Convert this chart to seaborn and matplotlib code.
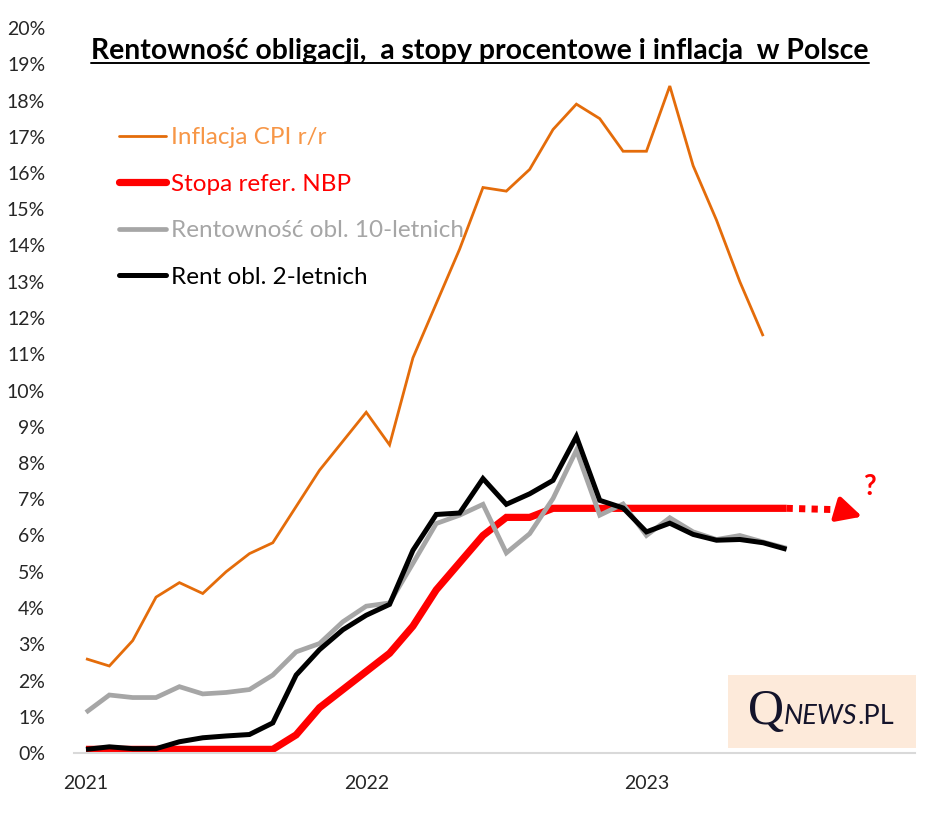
import numpy as np
import pandas as pd
import matplotlib
matplotlib.use("Agg")
import matplotlib.pyplot as plt
import seaborn as sns
from matplotlib.lines import Line2D
from matplotlib.patches import Rectangle
from matplotlib.offsetbox import TextArea, HPacker, AnnotationBbox

# ---------------- data (monthly, from Jan 2021) ----------------
year_labels = ["2021", "2022", "2023"]
y_ticks = list(range(0, 21))

cpi = [2.6, 2.4, 3.1, 4.3, 4.7, 4.4, 5.0, 5.5, 5.8, 6.8, 7.8, 8.6,
       9.4, 8.5, 10.9, 12.4, 13.9, 15.6, 15.5, 16.1, 17.2, 17.9, 17.5, 16.6,
       16.6, 18.4, 16.2, 14.7, 13.0, 11.5]
nbp_rate = [0.1, 0.1, 0.1, 0.1, 0.1, 0.1, 0.1, 0.1, 0.1, 0.5, 1.25, 1.75,
            2.25, 2.75, 3.5, 4.5, 5.25, 6.0, 6.5, 6.5, 6.75, 6.75, 6.75, 6.75,
            6.75, 6.75, 6.75, 6.75, 6.75, 6.75, 6.75]
yield_10y = [1.12, 1.6, 1.53, 1.53, 1.83, 1.63, 1.67, 1.75, 2.15, 2.79, 3.02, 3.62,
             4.05, 4.14, 5.23, 6.33, 6.56, 6.86, 5.52, 6.05, 7.02, 8.35, 6.56, 6.87,
             6.0, 6.49, 6.1, 5.89, 6.0, 5.82, 5.65]
yield_2y = [0.1, 0.17, 0.12, 0.12, 0.31, 0.42, 0.47, 0.51, 0.83, 2.15, 2.85, 3.4,
            3.8, 4.1, 5.59, 6.58, 6.62, 7.57, 6.86, 7.15, 7.52, 8.73, 6.97, 6.76,
            6.1, 6.34, 6.03, 5.87, 5.89, 5.8, 5.62]

labels = ["Inflacja CPI r/r", "Stopa refer. NBP",
          "Rentowność obl. 10-letnich", "Rent obl. 2-letnich"]
series = [cpi, nbp_rate, yield_10y, yield_2y]
line_colors = ["#E46C0A", "#FF0000", "#A6A6A6", "#000000"]
text_colors = ["#F79646", "#FF0000", "#A6A6A6", "#000000"]
widths = [2.0, 5.2, 3.4, 3.6]

rows = []
for lab, vals in zip(labels, series):
    for i, v in enumerate(vals):
        rows.append({"pos": i + 0.5, "value": v, "series": lab})
df = pd.DataFrame(rows)

# ---------------- figure ----------------
sns.set_theme(style="white")
plt.rcParams["font.family"] = ["Lato", "DejaVu Sans"]

W, H = 948, 826
fig = plt.figure(figsize=(W / 100, H / 100), dpi=100)
fig.patch.set_facecolor("white")
ax = fig.add_axes([74.3 / W, 1 - 753 / H, (915 - 74.3) / W, (753 - 28) / H])

for lab, col, lw in zip(labels, line_colors, widths):
    sub = df[df["series"] == lab]
    sns.lineplot(data=sub, x="pos", y="value", ax=ax, color=col, linewidth=lw,
                 legend=False, solid_capstyle="butt", solid_joinstyle="miter")

# dotted continuation of NBP rate with arrow head
last_pos = len(nbp_rate) - 0.5
last_val = nbp_rate[-1]
ax.plot([last_pos, last_pos + 2.3], [last_val, last_val - 0.04], color="#FF0000",
        lw=5, linestyle=(0, (0.9, 0.9)), solid_capstyle="butt")
ax.annotate("", xy=(last_pos + 3.35, last_val - 0.25), xytext=(last_pos + 2.45, last_val - 0.08),
            arrowprops=dict(arrowstyle="-|>,head_length=0.75,head_width=0.38",
                            color="#FF0000", lw=3.5, mutation_scale=20))
ax.text(last_pos + 3.55, last_val + 0.6, "?", color="#FF0000", fontsize=20,
        fontweight="bold", ha="center", va="center")

# axes styling
ax.set_xlim(0, 36)
ax.set_ylim(0, 20)
ax.set_xticks([0, 12, 24, 36])
ax.set_xticklabels([])
ax.set_xticks([0.5, 12.5, 24.5], minor=True)
ax.set_xticklabels(year_labels, minor=True)
ax.tick_params(axis="x", which="major", length=7, width=1.2, color="#D9D9D9", direction="out")
ax.tick_params(axis="x", which="minor", length=0, pad=16, labelsize=14, labelcolor="#262626")
ax.set_yticks(y_ticks)
ax.set_yticklabels([f"{v}%" for v in y_ticks])
ax.tick_params(axis="y", length=0, pad=21, labelsize=14, labelcolor="#262626")
for side in ["left", "right", "top"]:
    ax.spines[side].set_visible(False)
ax.spines["bottom"].set_color("#D9D9D9")
ax.spines["bottom"].set_linewidth(1.5)
ax.set_xlabel("")
ax.set_ylabel("")
ax.grid(False)

# legend
handles = [Line2D([], [], color=c, lw=w, solid_capstyle="round") for c, w in zip(line_colors, widths)]
leg = ax.legend(handles, labels, loc="upper left",
                frameon=False, fontsize=17.5, handlelength=1.95, handletextpad=0.2,
                labelspacing=1.05, borderpad=0, borderaxespad=0)
leg.set_bbox_to_anchor((119 / W, 1 - 127 / H), transform=fig.transFigure)
for t, c in zip(leg.get_texts(), text_colors):
    t.set_color(c)

# title with underline
title = fig.text(0.5063, 1 - 51 / H, "Rentowność obligacji,  a stopy procentowe i inflacja  w Polsce",
                 ha="center", va="center", fontsize=20.4, fontweight="bold", color="black")
fig.canvas.draw()
bb = title.get_window_extent(fig.canvas.get_renderer())
uy = bb.y0 + 1
fig.add_artist(Line2D([bb.x0 / W, bb.x1 / W], [uy / H, uy / H], color="black", lw=1.4,
                      transform=fig.transFigure))

# logo box
fig.add_artist(Rectangle((727.7 / W, 1 - 748 / H), (915.7 - 727.7) / W, (748 - 675) / H,
                         transform=fig.transFigure, facecolor="#FDEADA", edgecolor="none"))
logo_col = "#14142B"
q = TextArea("Q", textprops=dict(family="Liberation Serif", fontsize=36, color=logo_col))
news = TextArea("NEWS", textprops=dict(family=["Lato", "DejaVu Sans"], fontsize=19.5,
                                         style="italic", color=logo_col))
pl = TextArea(".PL", textprops=dict(family=["Lato", "DejaVu Sans"], fontsize=19.5, color=logo_col))
pack = HPacker(children=[q, news, pl], align="baseline", pad=0, sep=0)
ab = AnnotationBbox(pack, (821 / W, 1 - 712 / H), xycoords="figure fraction",
                    frameon=False, box_alignment=(0.5, 0.5))
fig.add_artist(ab)

fig.savefig("out.png", dpi=100, facecolor="white")
